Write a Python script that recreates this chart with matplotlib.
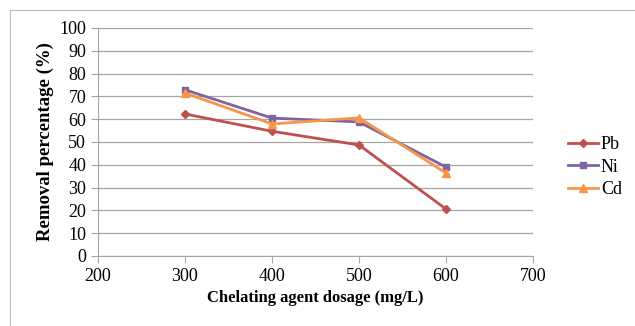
import matplotlib.pyplot as plt
from matplotlib.patches import Rectangle

plt.rcParams['font.family'] = ['Liberation Serif', 'DejaVu Serif']

dosage = [300, 400, 500, 600]
pb = [62.3, 54.7, 48.7, 20.6]
ni = [72.9, 60.5, 58.8, 39.0]
cd = [71.5, 57.9, 60.6, 36.4]

fig = plt.figure(figsize=(6.35, 3.26), dpi=100)
ax = fig.add_axes([98 / 635, 1 - 256 / 326, 435 / 635, 228 / 326])

# outer chart border
fig.patches.append(Rectangle((10 / 635, -0.01), 1.2, 1 - 10 / 326 + 0.01,
                             transform=fig.transFigure, fill=False,
                             edgecolor='#bfbfbf', linewidth=0.8))

ax.plot(dosage, pb, color='#C0504D', marker='D', markersize=4, linewidth=2, label='Pb')
ax.plot(dosage, ni, color='#8064A2', marker='s', markersize=5, linewidth=2, label='Ni')
ax.plot(dosage, cd, color='#F79646', marker='^', markersize=6, linewidth=2, label='Cd')

ax.set_xlim(200, 700)
ax.set_ylim(0, 100)
ax.set_xticks(range(200, 701, 100))
ax.set_yticks(range(0, 101, 10))
ax.yaxis.grid(True, color='#a6a6a6', linewidth=0.9)
ax.set_axisbelow(True)
for s in ['top', 'right']:
    ax.spines[s].set_visible(False)
for s in ['left', 'bottom']:
    ax.spines[s].set_color('#a6a6a6')
ax.tick_params(axis='both', colors='#a6a6a6', labelcolor='black', labelsize=13,
               length=5, direction='out')
ax.set_xlabel('Chelating agent dosage (mg/L)', fontsize=12, fontweight='bold',
              labelpad=4)
ax.set_ylabel('Removal percentage (%)', fontsize=13.5, fontweight='bold',
              labelpad=4)

ax.legend(loc='center left', bbox_to_anchor=(1.044, 0.39), frameon=False,
          fontsize=13, handlelength=1.65, handletextpad=0.15, labelspacing=0.3)

fig.savefig('out.png', dpi=100)
